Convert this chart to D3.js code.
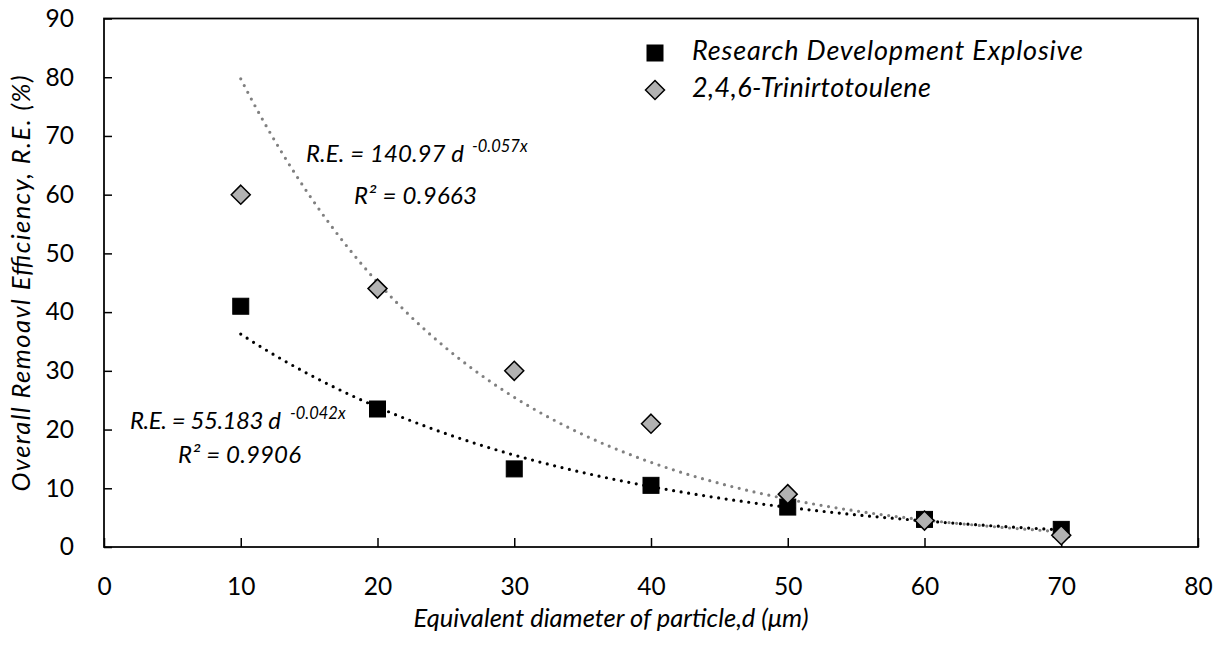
<!DOCTYPE html>
<html><head><meta charset="utf-8">
<script src="https://cdn.jsdelivr.net/npm/d3@7"></script>
<style>
html,body{margin:0;padding:0;background:#fff;}
svg{display:block;font-family:Lato,"Open Sans",sans-serif;}
</style></head>
<body>
<svg id="c" width="1227" height="647"></svg>
<script>
// ---- data ----
const diameters = [10, 20, 30, 40, 50, 60, 70];
const rdxValues = [41, 23.5, 13.3, 10.5, 6.8, 4.7, 3.0];
const tntValues = [60, 44, 30, 21, 9, 4.5, 2.0];
const seriesNames = ["Research Development Explosive", "2,4,6-Trinirtotoulene"];
// exponential trend coefficients (from the chart's labels)
const rdxFit = {a: "55.183", b: -0.042, r2: "0.9906"};
const tntFit = {a: "140.97", b: -0.057, r2: "0.9663"};
const xTicks = [0, 10, 20, 30, 40, 50, 60, 70, 80];
const yTicks = [0, 10, 20, 30, 40, 50, 60, 70, 80, 90];
const xTitle = "Equivalent diameter of particle,d (μm)";
const yTitle = "Overall Remoavl Efficiency, R.E. (%)";

const svg = d3.select("#c");
const L = 104, R = 1198, T = 18.5, B = 547;
const x = d3.scaleLinear().domain([0, 80]).range([L, R]);
const y = d3.scaleLinear().domain([0, 90]).range([B, T]);

// axes (ticks inside)
const xa = svg.append("g").attr("transform", `translate(0,${B})`)
  .call(d3.axisBottom(x).tickValues(xTicks).tickSizeInner(-9).tickSizeOuter(0).tickPadding(30));
const ya = svg.append("g").attr("transform", `translate(${L},0)`)
  .call(d3.axisLeft(y).tickValues(yTicks).tickSizeInner(-8).tickSizeOuter(0).tickPadding(30));
[xa, ya].forEach(g => {
  g.select(".domain").remove();
  g.selectAll("line").attr("stroke", "#000").attr("stroke-width", 1.5);
  g.selectAll("text").attr("font-family", "Lato").attr("font-size", 24.5).attr("fill", "#000");
});
xa.selectAll("text").attr("dy", "0.71em").attr("y", 31);
ya.selectAll("text").attr("x", -30);

// plot frame
svg.append("rect").attr("x", L).attr("y", T).attr("width", R - L).attr("height", B - T)
  .attr("fill", "none").attr("stroke", "#000").attr("stroke-width", 1.75);

// trend lines
function trend(fit) {
  const a = +fit.a;
  return d3.range(10, 70.001, 0.5).map(v => [v, a * Math.exp(fit.b * v)]);
}
const line = d3.line().x(d => x(d[0])).y(d => y(d[1]));
svg.append("path").attr("d", line(trend(rdxFit))).attr("fill", "none")
  .attr("stroke", "#000").attr("stroke-width", 3.2).attr("stroke-linecap", "round")
  .attr("stroke-dasharray", "0 7.6");
svg.append("path").attr("d", line(trend(tntFit))).attr("fill", "none")
  .attr("stroke", "#808080").attr("stroke-width", 3.2).attr("stroke-linecap", "round")
  .attr("stroke-dasharray", "0 7.6");

// markers
const sq = 16, dm = 9.5;
function square(g, cx, cy) {
  g.append("rect").attr("x", cx - sq / 2).attr("y", cy - sq / 2).attr("width", sq).attr("height", sq)
    .attr("fill", "#000").attr("stroke", "#000").attr("stroke-width", 1);
}
function diamond(g, cx, cy) {
  g.append("path").attr("d", `M${cx},${cy - dm}L${cx + dm},${cy}L${cx},${cy + dm}L${cx - dm},${cy}Z`)
    .attr("fill", "#b2b2b2").attr("stroke", "#000").attr("stroke-width", 1.5);
}
const mg = svg.append("g");
diameters.forEach((d, i) => square(mg, x(d), y(rdxValues[i])));
diameters.forEach((d, i) => diamond(mg, x(d), y(tntValues[i])));

function txt(xp, yp, s, size, width, anchor) {
  const t = svg.append("text").attr("x", xp).attr("y", yp).attr("font-size", size)
    .attr("font-style", "italic").attr("fill", "#000").text(s);
  if (width) t.attr("textLength", width).attr("lengthAdjust", "spacing");
  if (anchor) t.attr("text-anchor", anchor);
  return t;
}

// legend
square(svg, 655, 53);
diamond(svg, 655, 90);
txt(692, 60, seriesNames[0], 27, 391);
txt(692, 97, seriesNames[1], 27, 239);

// equation labels
function eq(xp, yp, fit, mainW, supX, x2, y2) {
  txt(xp, yp, `R.E. = ${fit.a} d`, 24, mainW);
  txt(supX + 3, yp - 10, `${fit.b}x`, 16.5);
  txt(x2, y2, `R² = ${fit.r2}`, 24, 123);
}
eq(306, 162, tntFit, 158, 469, 354, 204);
eq(130, 429, rdxFit, 151, 287, 178, 463);

// axis titles
txt(611, 627, xTitle, 25.5, 395, "middle");
txt(0, 0, yTitle, 25.5, 416, "middle").attr("transform", "translate(29.5,283.5) rotate(-90)");
</script>
</body></html>
